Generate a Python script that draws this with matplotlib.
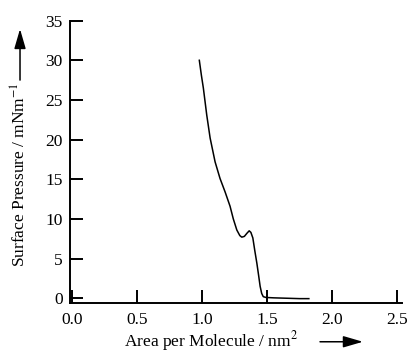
import matplotlib
matplotlib.use("Agg")
import matplotlib.pyplot as plt

# isotherm
area = [0.979, 0.995, 1.010, 1.036, 1.062, 1.100, 1.138, 1.177, 1.215, 1.24, 1.267,
        1.29, 1.305, 1.325, 1.345, 1.362, 1.375, 1.39, 1.405, 1.421, 1.435,
        1.446, 1.458, 1.47, 1.49, 1.55, 1.65, 1.75, 1.82]
pressure = [30.0, 28.1, 26.5, 23.1, 20.2, 17.2, 15.1, 13.4, 11.6, 10.0, 8.6,
            7.9, 7.7, 7.8, 8.2, 8.5, 8.3, 7.6, 6.0, 4.4, 2.8,
            1.5, 0.6, 0.2, 0.1, 0.05, 0.0, -0.05, -0.05]

xticks = [0.0, 0.5, 1.0, 1.5, 2.0, 2.5]
yticks = [0, 5, 10, 15, 20, 25, 30, 35]

plt.rcParams['font.family'] = ['Liberation Serif', 'DejaVu Serif']
plt.rcParams['mathtext.fontset'] = 'stix'

fig = plt.figure(figsize=(4.11, 3.56), dpi=100)
ax = fig.add_axes([0.170, 0.150, 0.808, 0.792])

ax.plot(area, pressure, color='black', lw=1.1)

ax.set_xlim(-0.015, 2.535)
ax.set_ylim(-0.55, 35)
ax.set_xticks(xticks)
ax.set_xticklabels(['%.1f' % t for t in xticks])
ax.set_yticks(yticks)
ax.spines['top'].set_visible(False)
ax.spines['right'].set_visible(False)
ax.spines['left'].set_linewidth(1.4)
ax.spines['bottom'].set_linewidth(1.4)
ax.tick_params(direction='in', length=9.5, width=1.4, labelsize=12.5)
ax.tick_params(axis='y', pad=5)
ax.tick_params(axis='x', pad=7)

# axis labels with arrows
fig.text(0.5146, 0.043, 'Area per Molecule / nm$^2$', ha='center', va='center', fontsize=12.5)
fig.text(0.049, 0.511, 'Surface Pressure / mNm$^{-1}$', ha='center', va='center',
         rotation=90, fontsize=12.5)

arrow = dict(arrowstyle='-|>,head_length=1.2,head_width=0.35', mutation_scale=10,
             color='black', lw=1.1, shrinkA=0, shrinkB=0)
ax.annotate('', xy=(0.883, 0.040), xytext=(0.7786, 0.040),
            xycoords='figure fraction', textcoords='figure fraction', arrowprops=arrow)
ax.annotate('', xy=(0.0487, 0.9185), xytext=(0.0487, 0.775),
            xycoords='figure fraction', textcoords='figure fraction', arrowprops=arrow)

fig.savefig('out.png', dpi=100)
